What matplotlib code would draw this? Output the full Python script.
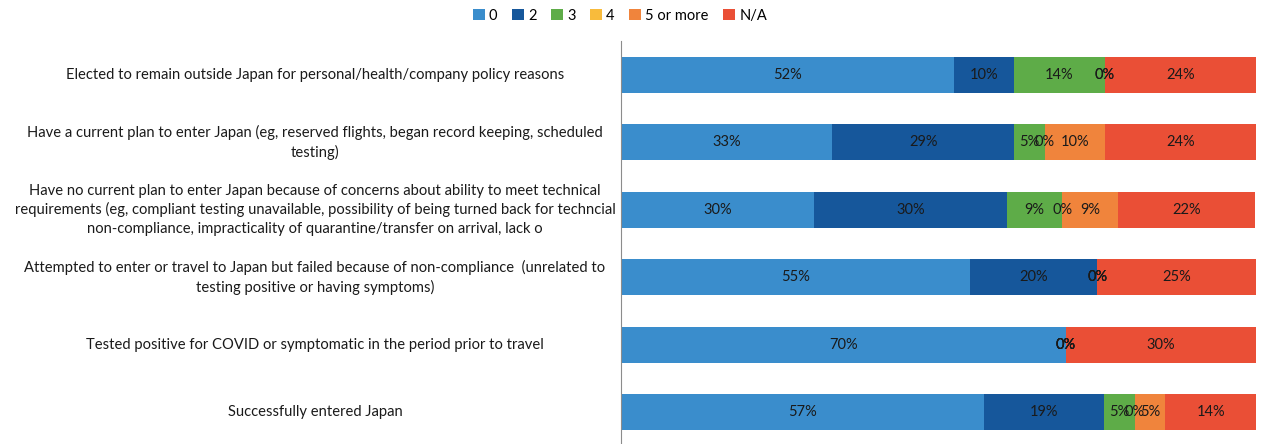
import matplotlib

matplotlib.use("Agg")
import matplotlib.pyplot as plt
import numpy as np

plt.rcParams["font.family"] = ["Lato", "DejaVu Sans"]

categories = [
    "Elected to remain outside Japan for personal/health/company policy reasons",
    "Have a current plan to enter Japan (eg, reserved flights, began record keeping, scheduled\ntesting)",
    "Have no current plan to enter Japan because of concerns about ability to meet technical\n"
    "requirements (eg, compliant testing unavailable, possibility of being turned back for techncial\n"
    "non-compliance, impracticality of quarantine/transfer on arrival, lack o",
    "Attempted to enter or travel to Japan but failed because of non-compliance  (unrelated to\n"
    "testing positive or having symptoms)",
    "Tested positive for COVID or symptomatic in the period prior to travel",
    "Successfully entered Japan",
]
series_names = ["0", "2", "3", "4", "5 or more", "N/A"]
val_0 = [52.4, 33.3, 30.4, 55.0, 70.0, 57.1]
val_2 = [9.5, 28.6, 30.4, 20.0, 0.0, 19.0]
val_3 = [14.3, 4.8, 8.7, 0.0, 0.0, 4.8]
val_4 = [0.0, 0.0, 0.0, 0.0, 0.0, 0.0]
val_5plus = [0.0, 9.5, 8.7, 0.0, 0.0, 4.8]
val_na = [23.8, 23.8, 21.7, 25.0, 30.0, 14.3]

colors = ["#3a8dcc", "#16579b", "#5eac48", "#f8bb3c", "#f0843c", "#ea4f36"]


def main() -> None:
    series = [val_0, val_2, val_3, val_4, val_5plus, val_na]
    W, H = 1264, 444
    fig = plt.figure(figsize=(W / 100, H / 100), dpi=100)
    ax = fig.add_axes([621 / W, -2 / H, (1256 - 621) / W, (446 - 41) / H])

    y = np.arange(len(categories))
    left = np.zeros(len(categories))
    handles = []
    for name, vals, col in zip(series_names, series, colors):
        vals = np.asarray(vals, dtype=float)
        b = ax.barh(y, vals, left=left, height=0.53, color=col, label=name)
        handles.append(b)
        for yi, (l, v) in enumerate(zip(left, vals)):
            ax.text(l + v / 2, yi, f"{v:.0f}%", ha="center", va="center",
                    fontsize=10.5, color="#1a1a1a")
        left += vals

    ax.set_xlim(0, 100)
    ax.set_ylim(len(categories) - 0.5, -0.5)
    ax.set_xticks([])
    ax.set_yticks([])
    for side in ["top", "right", "bottom"]:
        ax.spines[side].set_visible(False)
    ax.spines["left"].set_color("#8c8c8c")
    ax.spines["left"].set_linewidth(0.8)

    # category labels centred in the area left of the axis
    for yi, cat in enumerate(categories):
        ax.annotate(cat, xy=(0, yi), xycoords=("figure pixels", "data"),
                    xytext=(315, 0), textcoords=("figure pixels", "offset pixels"),
                    ha="center", va="center", fontsize=10.6, color="#1a1a1a",
                    linespacing=1.38, annotation_clip=False)

    fig.legend(handles=handles, labels=series_names, loc="upper center",
               bbox_to_anchor=(620 / W, 1.0), ncol=6, frameon=False,
               fontsize=10.5, handlelength=0.8, handleheight=0.8,
               handletextpad=0.3, columnspacing=1.0, borderaxespad=0.2)

    fig.savefig("out.png", dpi=100)
    plt.close(fig)


if __name__ == "__main__":
    main()
